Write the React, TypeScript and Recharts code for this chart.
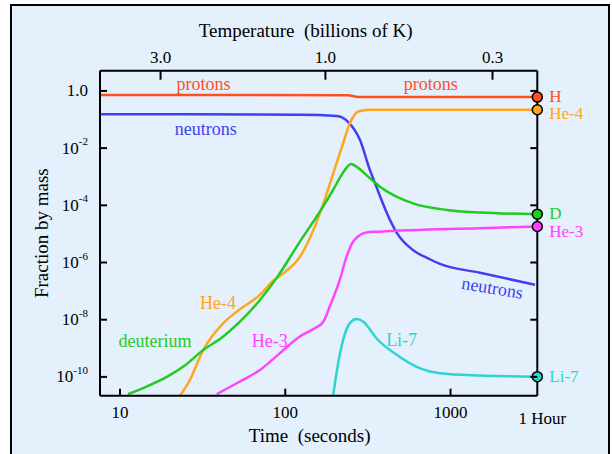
import { LineChart, Line, XAxis, YAxis, ReferenceDot, Label } from "recharts";

const FONT = "'Liberation Serif', 'Times New Roman', serif";
const BG = "#e4f0fc";

// axis ranges (seconds / mass fraction)
const T_MIN = 7.57;
const T_MAX = 3350;
const F_MIN = 2.2e-11;
const F_MAX = 5.1;

const timeTicks = [10, 100, 1000];
const fracTicks = [1, 1e-2, 1e-4, 1e-6, 1e-8, 1e-10];
const tempLabels = ["3.0", "1.0", "0.3"];
const tempTickTimes = [17.6, 175, 1795];

const protonTime = [7.57, 239, 258, 277, 3350];
const protonFrac = [0.72, 0.71, 0.66, 0.61, 0.61];

const neutronTime = [7.57, 122.7, 205, 239, 283, 325, 349, 430, 474, 592, 750, 863, 1507, 3245];
const neutronFrac = [0.153, 0.148, 0.134, 0.085, 0.0195, 1.74e-3, 6.0e-4, 3.1e-5, 1.07e-5, 2.75e-6, 1.3e-6, 8.9e-7, 4.4e-7, 1.66e-7];

const he4Time = [23.1, 26.5, 31.9, 42.2, 50.8, 70.3, 84.6, 100, 122.7, 141, 162, 195, 224, 246, 277, 325, 3350];
const he4Frac = [2.2e-11, 7.9e-11, 8.7e-10, 7.6e-9, 1.9e-8, 7.4e-8, 2.3e-7, 4.7e-7, 1.58e-6, 7.2e-6, 5.2e-5, 1.3e-3, 0.0148, 0.074, 0.19, 0.22, 0.22];

const dTime = [11.2, 14.5, 19.2, 24.2, 31.9, 42.2, 53.2, 70.3, 88.8, 122.7, 162, 195, 224, 250, 277, 325, 374, 594, 946, 1507, 3350];
const dFrac = [2.5e-11, 4.6e-11, 1.0e-10, 2.3e-10, 8.7e-10, 2.6e-9, 8.5e-9, 4.9e-8, 2.9e-7, 5.4e-6, 6.0e-5, 3.5e-4, 1.4e-3, 2.8e-3, 2.0e-3, 8.9e-4, 4.5e-4, 1.17e-4, 6.9e-5, 5.6e-5, 4.9e-5];

const he3Time = [38.5, 53.2, 70.3, 92.9, 122.7, 148, 170, 186, 214, 235, 258, 310, 374, 1507, 3350];
const he3Frac = [2.5e-11, 6.9e-11, 1.74e-10, 6.8e-10, 2.6e-9, 4.7e-9, 8.5e-9, 2.9e-8, 2.5e-7, 1.6e-6, 5.4e-6, 1.12e-5, 1.2e-5, 1.58e-5, 1.82e-5];

const li7Time = [195, 209, 224, 246, 270, 297, 357, 472, 653, 863, 1507, 3350];
const li7Frac = [2.3e-11, 3.0e-10, 1.95e-9, 7.6e-9, 1.05e-8, 8.5e-9, 2.2e-9, 5.9e-10, 2.0e-10, 1.35e-10, 1.12e-10, 1.02e-10];

const zip = (ts: number[], fs: number[]) => ts.map((t, i) => ({ t, f: fs[i] }));

const series = [
  { name: "protons", data: zip(protonTime, protonFrac), color: "#ff4f1f" },
  { name: "neutrons", data: zip(neutronTime, neutronFrac), color: "#4040f0" },
  { name: "He-4", data: zip(he4Time, he4Frac), color: "#ffa51e" },
  { name: "deuterium", data: zip(dTime, dFrac), color: "#1fcc1f" },
  { name: "He-3", data: zip(he3Time, he3Frac), color: "#ff44ff" },
  { name: "Li-7", data: zip(li7Time, li7Frac), color: "#2dd4d4" },
];

// in-plot annotations, anchored in data units
const notes = [
  { text: "protons", t: 32, f: 1.76, color: "#ff4f1f", rot: 0 },
  { text: "protons", t: 759, f: 1.76, color: "#ff4f1f", rot: 0 },
  { text: "neutrons", t: 33, f: 0.047, color: "#4040f0", rot: 0 },
  { text: "He-4", t: 39.2, f: 3.9e-8, color: "#ffa51e", rot: 0 },
  { text: "deuterium", t: 16.3, f: 1.74e-9, color: "#1fcc1f", rot: 0 },
  { text: "He-3", t: 80.7, f: 1.74e-9, color: "#ff44ff", rot: 0 },
  { text: "Li-7", t: 506, f: 1.95e-9, color: "#2dd4d4", rot: 0 },
  { text: "neutrons", t: 1791, f: 1.29e-7, color: "#4040f0", rot: 9.5 },
];

// end-of-run abundances, marked on the right border
const ends = [
  { text: "H", f: 0.61, color: "#ff4f1f", dy: -1 },
  { text: "He-4", f: 0.22, color: "#ffa51e", dy: 4 },
  { text: "D", f: 4.9e-5, color: "#1fcc1f", dy: -1 },
  { text: "He-3", f: 1.82e-5, color: "#ff44ff", dy: 5 },
  { text: "Li-7", f: 1.02e-10, color: "#2dd4d4", dy: 0 },
];

const axisLine = { stroke: "#000", strokeWidth: 2 };

function LeftTick(props: any) {
  const { x, y, payload } = props;
  const exp = Math.round(Math.log10(payload.value));
  return (
    <g>
      <line x1={x} x2={x + 7} y1={y} y2={y} stroke="#000" strokeWidth={2} />
      <text x={x - 12} y={y} textAnchor="end" dominantBaseline="central" fontFamily={FONT} fontSize={17} fill="#000">
        {exp === 0 ? "1.0" : (
          <>
            10<tspan dy={-7} fontSize={11}>{exp}</tspan>
          </>
        )}
      </text>
    </g>
  );
}

function RightTick(props: any) {
  const { x, y } = props;
  return <line x1={x - 7} x2={x} y1={y} y2={y} stroke="#000" strokeWidth={2} />;
}

function BottomTick(props: any) {
  const { x, y, payload } = props;
  return (
    <g>
      <line x1={x} x2={x} y1={y} y2={y - 7} stroke="#000" strokeWidth={2} />
      <text x={x} y={y + 17} textAnchor="middle" dominantBaseline="central" fontFamily={FONT} fontSize={17} fill="#000">
        {payload.value}
      </text>
    </g>
  );
}

function TopTick(props: any) {
  const { x, y, index } = props;
  return (
    <g>
      <line x1={x} x2={x} y1={y} y2={y + 9} stroke="#000" strokeWidth={2} />
      <text x={x} y={y - 13} textAnchor="middle" dominantBaseline="central" fontFamily={FONT} fontSize={17} fill="#000">
        {tempLabels[index]}
      </text>
    </g>
  );
}

export default function App() {
  return (
    <div style={{ position: "absolute", left: 0, top: 0, width: 612, height: 454, overflow: "hidden" }}>
      <div
        style={{
          position: "absolute",
          left: 10,
          top: 4,
          width: 596,
          height: 500,
          border: "2px solid #000",
          background: BG,
        }}
      />
      <div style={{ position: "absolute", left: 0, top: 0 }}>
        <LineChart width={612} height={454} margin={{ top: 0, right: 0, bottom: 0, left: 0 }}>
          <XAxis
            xAxisId="t"
            dataKey="t"
            type="number"
            scale="log"
            domain={[T_MIN, T_MAX]}
            allowDataOverflow
            ticks={timeTicks}
            interval={0}
            height={58.3}
            tickSize={0}
            tickMargin={0}
            tickLine={false}
            axisLine={axisLine}
            tick={BottomTick}
          >
            <Label
              content={(p: any) => (
                <text
                  x={p.viewBox.x + p.viewBox.width / 2 - 9}
                  y={p.viewBox.y + 40}
                  textAnchor="middle"
                  dominantBaseline="central"
                  fontFamily={FONT}
                  fontSize={19}
                  fill="#000"
                >
                  {"Time\u00a0\u00a0(seconds)"}
                </text>
              )}
            />
          </XAxis>
          <XAxis
            xAxisId="temp"
            dataKey="t"
            orientation="top"
            type="number"
            scale="log"
            domain={[T_MIN, T_MAX]}
            allowDataOverflow
            ticks={tempTickTimes}
            interval={0}
            height={70.7}
            tickSize={0}
            tickMargin={0}
            tickLine={false}
            axisLine={axisLine}
            tick={TopTick}
          >
            <Label
              content={(p: any) => (
                <text
                  x={p.viewBox.x + p.viewBox.width / 2 - 13}
                  y={30}
                  textAnchor="middle"
                  dominantBaseline="central"
                  fontFamily={FONT}
                  fontSize={19}
                  fill="#000"
                >
                  {"Temperature\u00a0\u00a0(billions of K)"}
                </text>
              )}
            />
          </XAxis>
          <YAxis
            yAxisId="f"
            type="number"
            scale="log"
            domain={[F_MIN, F_MAX]}
            allowDataOverflow
            ticks={fracTicks}
            interval={0}
            width={100}
            tickSize={0}
            tickMargin={0}
            tickLine={false}
            axisLine={axisLine}
            tick={LeftTick}
          >
            <Label
              content={(p: any) => (
                <text
                  transform={`translate(41, ${p.viewBox.y + p.viewBox.height / 2}) rotate(-90)`}
                  textAnchor="middle"
                  dominantBaseline="central"
                  fontFamily={FONT}
                  fontSize={19}
                  fill="#000"
                >
                  Fraction by mass
                </text>
              )}
            />
          </YAxis>
          <YAxis
            yAxisId="r"
            orientation="right"
            type="number"
            scale="log"
            domain={[F_MIN, F_MAX]}
            allowDataOverflow
            ticks={fracTicks}
            interval={0}
            width={74.7}
            tickSize={0}
            tickMargin={0}
            tickLine={false}
            axisLine={axisLine}
            tick={RightTick}
          />
          {series.map((s) => (
            <Line
              key={s.name}
              xAxisId="t"
              yAxisId="f"
              data={s.data}
              dataKey="f"
              type="monotone"
              stroke={s.color}
              strokeWidth={2.5}
              dot={false}
              isAnimationActive={false}
            />
          ))}
          {notes.map((n, i) => (
            <ReferenceDot
              key={"n" + i}
              xAxisId="t"
              yAxisId="f"
              x={n.t}
              y={n.f}
              ifOverflow="visible"
              shape={(p: any) => (
                <text
                  x={p.cx}
                  y={p.cy}
                  transform={n.rot ? `rotate(${n.rot}, ${p.cx}, ${p.cy})` : undefined}
                  textAnchor="middle"
                  dominantBaseline="central"
                  fontFamily={FONT}
                  fontSize={18}
                  fill={n.color}
                >
                  {n.text}
                </text>
              )}
            />
          ))}
          {ends.map((e) => (
            <ReferenceDot
              key={"e" + e.text}
              xAxisId="t"
              yAxisId="f"
              x={T_MAX}
              y={e.f}
              ifOverflow="visible"
              shape={(p: any) => (
                <g>
                  <circle cx={p.cx} cy={p.cy} r={5} fill={e.color} stroke="#000" strokeWidth={1.5} />
                  <text
                    x={p.cx + 12}
                    y={p.cy + e.dy}
                    textAnchor="start"
                    dominantBaseline="central"
                    fontFamily={FONT}
                    fontSize={17}
                    fill={e.color}
                  >
                    {e.text}
                  </text>
                </g>
              )}
            />
          ))}
          <ReferenceDot
            xAxisId="t"
            yAxisId="f"
            x={T_MAX}
            y={F_MIN}
            ifOverflow="visible"
            shape={(p: any) => (
              <text
                x={p.cx + 5}
                y={p.cy + 23}
                textAnchor="middle"
                dominantBaseline="central"
                fontFamily={FONT}
                fontSize={17}
                fill="#000"
              >
                1 Hour
              </text>
            )}
          />
        </LineChart>
      </div>
    </div>
  );
}
